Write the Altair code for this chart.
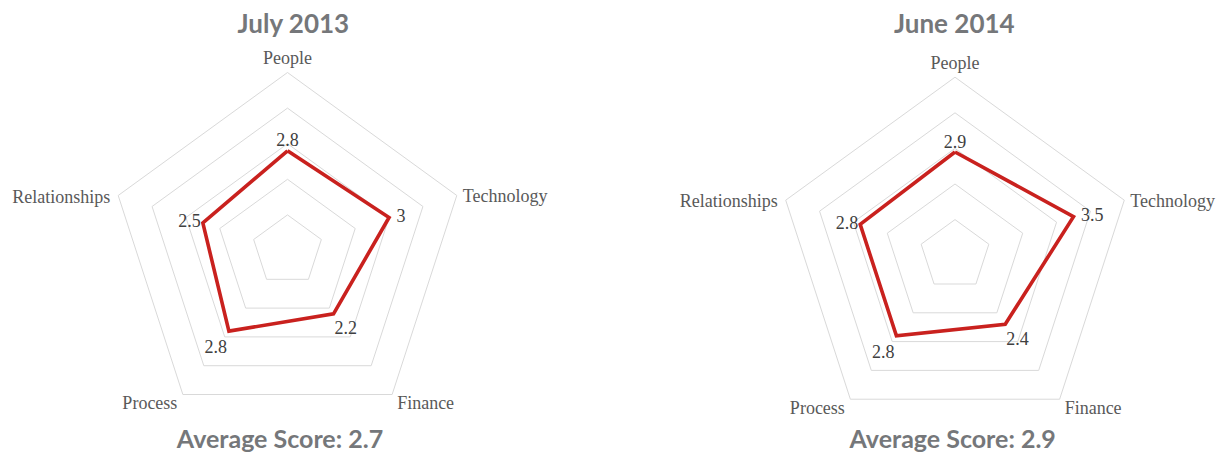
import altair as alt
import pandas as pd

# ---------------- data ----------------
categories = ["People", "Technology", "Finance", "Process", "Relationships"]
july_2013 = [2.8, 3.0, 2.2, 2.8, 2.5]
june_2014 = [2.9, 3.5, 2.4, 2.8, 2.8]
grid_levels = [1, 2, 3, 4, 5]
titles = ["July 2013", "June 2014"]

# ---------------- layout / style ----------------
PPU = 35.6      # pixels per score unit (radius of level 5 = 178px)
H = 437
panels = [
    dict(width=580, cx=279.5, cy=242.5, tx=285.3, ty=25.3, ax=272.0, ay=440.3),
    dict(width=630, cx=367.0, cy=247.2, tx=366.3, ty=25.3, ax=364.7, ay=440.3),
]
SERIF = "Liberation Serif"
SANS = "Lato"
RED = "#c9211e"
GRID = "#d9d9d9"
CAT_COLOR = "#595959"
VAL_COLOR = "#404040"
TITLE_COLOR = "#75777a"
N = len(categories)
RMAX = max(grid_levels)

# label placement: (align, dx, dy) in pixels, alphabetic baseline
cat_style = {
    "People": ("center", 0, -8.7),
    "Technology": ("left", 6.0, 6.8),
    "Finance": ("left", 5, 14.8),
    "Process": ("right", -5.5, 14.8),
    "Relationships": ("right", -8, 7.3),
}
val_style = {
    "People": ("center", 0, -4.4),
    "Technology": ("left", 7.5, 4.8),
    "Finance": ("left", 1, 20.5),
    "Process": ("right", -2, 22),
    "Relationships": ("right", -2, 4.3),
}


def radar(values, title, p):
    W = p["width"]
    xs = alt.Scale(domain=[-p["cx"] / PPU, (W - p["cx"]) / PPU], nice=False, zero=False)
    ys = alt.Scale(domain=[-(H - p["cy"]) / PPU, p["cy"] / PPU], nice=False, zero=False)

    grid_df = pd.DataFrame(
        [{"level": L, "k": k} for L in grid_levels for k in range(N + 1)]
    )
    series_df = pd.DataFrame({
        "category": categories + [categories[0]],
        "value": values + [values[0]],
        "k": list(range(N + 1)),
    })
    point_df = pd.DataFrame({
        "category": categories,
        "value": values,
        "k": list(range(N)),
    })

    polar = dict(
        ang=f"datum.k * 2 * PI / {N}",
    )

    grid = alt.Chart(grid_df).mark_line(color=GRID, strokeWidth=1).transform_calculate(
        **polar
    ).transform_calculate(
        gx="datum.level * sin(datum.ang)", gy="datum.level * cos(datum.ang)"
    ).encode(
        x=alt.X("gx:Q", scale=xs, axis=None),
        y=alt.Y("gy:Q", scale=ys, axis=None),
        detail="level:N",
        order="k:Q",
    )

    line = alt.Chart(series_df).mark_line(
        color=RED, strokeWidth=3.6, strokeJoin="miter"
    ).transform_calculate(**polar).transform_calculate(
        px="datum.value * sin(datum.ang)", py="datum.value * cos(datum.ang)"
    ).encode(
        x=alt.X("px:Q", scale=xs, axis=None),
        y=alt.Y("py:Q", scale=ys, axis=None),
        order="k:Q",
    )

    layers = [grid, line]

    for cat in categories:
        al, dx, dy = cat_style[cat]
        layers.append(
            alt.Chart(point_df).mark_text(
                align=al, baseline="alphabetic", dx=dx, dy=dy,
                font=SERIF, fontSize=18, color=CAT_COLOR,
            ).transform_filter(
                alt.datum.category == cat
            ).transform_calculate(**polar).transform_calculate(
                lx=f"{RMAX} * sin(datum.ang)", ly=f"{RMAX} * cos(datum.ang)"
            ).encode(
                x=alt.X("lx:Q", scale=xs, axis=None),
                y=alt.Y("ly:Q", scale=ys, axis=None),
                text="category:N",
            )
        )
        al, dx, dy = val_style[cat]
        layers.append(
            alt.Chart(point_df).mark_text(
                align=al, baseline="alphabetic", dx=dx, dy=dy,
                font=SERIF, fontSize=18, color=VAL_COLOR,
            ).transform_filter(
                alt.datum.category == cat
            ).transform_calculate(**polar).transform_calculate(
                px="datum.value * sin(datum.ang)", py="datum.value * cos(datum.ang)"
            ).encode(
                x=alt.X("px:Q", scale=xs, axis=None),
                y=alt.Y("py:Q", scale=ys, axis=None),
                text=alt.Text("value:Q", format="~g"),
            )
        )

    title_layer = alt.Chart(pd.DataFrame({"t": [title]})).mark_text(
        align="center", baseline="alphabetic", font=SANS, fontWeight="bold",
        fontSize=26, color=TITLE_COLOR,
    ).encode(x=alt.value(p["tx"]), y=alt.value(p["ty"]), text="t:N")

    avg_layer = alt.Chart(point_df).transform_aggregate(
        mean_v="mean(value)"
    ).transform_calculate(
        label="'Average Score: ' + format(datum.mean_v, '.1f')"
    ).mark_text(
        align="center", baseline="alphabetic", font=SANS, fontWeight="bold",
        fontSize=25, color=TITLE_COLOR,
    ).encode(x=alt.value(p["ax"]), y=alt.value(p["ay"]), text="label:N")

    layers += [title_layer, avg_layer]
    return alt.layer(*layers).properties(width=W, height=H)


chart = alt.hconcat(
    radar(july_2013, titles[0], panels[0]),
    radar(june_2014, titles[1], panels[1]),
    spacing=0,
    bounds="flush",
).properties(padding=0).configure_view(stroke=None)

chart.save("out.html", embed_options={"renderer": "svg", "actions": False})
